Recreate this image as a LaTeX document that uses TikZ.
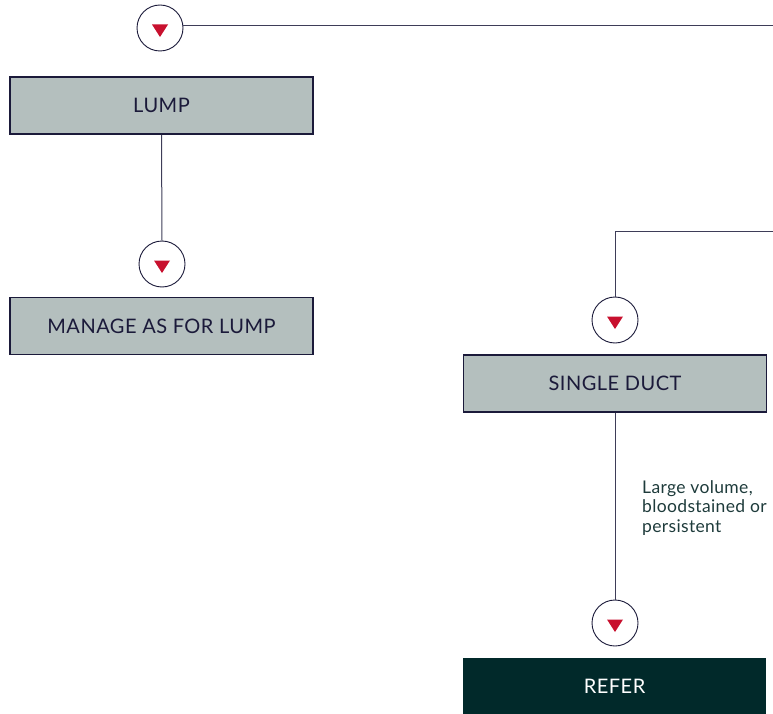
\documentclass[tikz,border=0pt]{standalone}
\usepackage{fontspec}
\setmainfont{Lato}
\newfontfamily\boxfont[LetterSpace=2.5]{Lato}
\newfontfamily\labfont[LetterSpace=2]{Lato}
\definecolor{boxfill}{HTML}{B4BFBE}
\definecolor{navy}{HTML}{1B1A3A}
\definecolor{linecol}{HTML}{3E3D58}
\definecolor{redtri}{HTML}{C8102E}
\definecolor{darkteal}{HTML}{01292A}
\definecolor{labcol}{HTML}{1E3B3B}
\tikzset{
  greybox/.style={draw=navy, line width=1.8pt, fill=boxfill, minimum width=303pt, minimum height=57pt, inner sep=0pt, font=\boxfont\fontsize{20}{21}\selectfont, text=navy},
  darkbox/.style={draw=none, fill=darkteal, minimum width=303pt, minimum height=56pt, inner sep=0pt, font=\boxfont\fontsize{20}{21}\selectfont, text=white},
  marker/.style={circle, draw=navy, line width=0.9pt, fill=white, minimum size=46pt, inner sep=0pt},
  conn/.style={draw=linecol, line width=1pt},
  lab/.style={font=\labfont\fontsize{17.5}{19.5}\selectfont, text=labcol, align=left, inner sep=0pt, anchor=north west}
}
\newcommand{\redtri}[1]{\fill[redtri] ($(#1)+(-8,-3.5)$) -- ($(#1)+(8,-3.5)$) -- ($(#1)+(0,9)$) -- cycle;}
\usetikzlibrary{calc}
\begin{document}
\begin{tikzpicture}[x=1pt,y=-1pt]
\useasboundingbox (0,0) rectangle (773,714);
% markers
\node[marker] (c1) at (160,28) {};
\node[marker] (c2) at (162,264) {};
\node[marker] (c3) at (615,320) {};
\node[marker] (c4) at (615,623) {};
% boxes
\node[greybox] (lump) at (161.5,105.5) {LUMP};
\node[greybox] (manage) at (161.5,326) {MANAGE AS FOR LUMP};
\node[greybox] (single) at (615,383.5) {SINGLE DUCT};
\node[darkbox] (refer) at (614.5,686) {REFER};
% free ends
\coordinate (e1) at (773,0);
\coordinate (e2) at (773,231);
% connectors
\draw[conn] (c1.7.5) -- (c1.7.5 -| e1);
\draw[conn] (lump.south) -- (c2.north);
\draw[conn] (e2) -| (c3.north);
\draw[conn] (single.south) -- (c4.north);
% triangles
\redtri{c1}
\redtri{c2}
\redtri{c3}
\redtri{c4}
% label
\node[lab] (lbl) at (642,480) {Large volume,\\bloodstained or\\persistent};
\end{tikzpicture}
\end{document}
